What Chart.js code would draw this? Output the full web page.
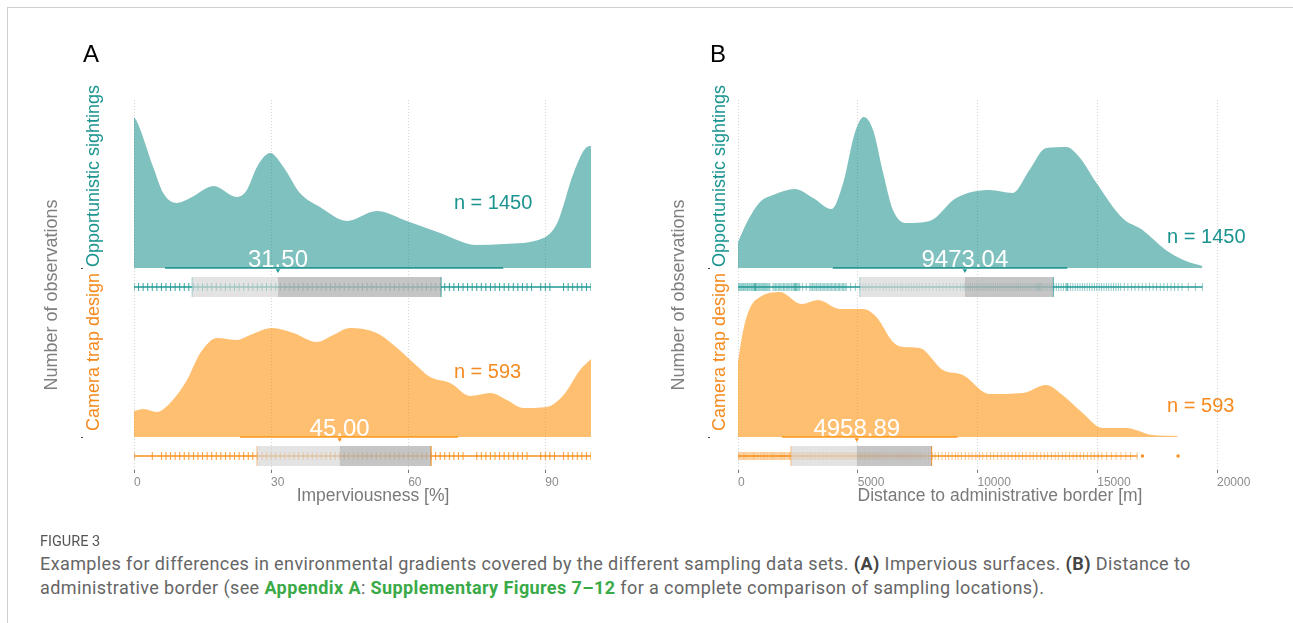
<!DOCTYPE html>
<html>
<head>
<meta charset="utf-8">
<script src="https://cdn.jsdelivr.net/npm/chart.js@4.4.0/dist/chart.umd.min.js"></script>
<style>
  body { margin: 0; background: #fff; width: 1293px; height: 623px; overflow: hidden; position: relative;
         font-family: 'Liberation Sans', Arial, sans-serif; }
  #frame { position: absolute; left: 7px; top: 7px; width: 1300px; height: 700px;
           border-top: 1px solid #cfcfcf; border-left: 1px solid #cfcfcf; }
  canvas { position: absolute; left: 0; top: 0; }
  .t { position: absolute; white-space: nowrap; line-height: 1; }
  .rot { transform: translate(-50%, -50%) rotate(-90deg); }
  .mid { transform: translate(-50%, -50%); }
  .tick { position: absolute; width: 2px; height: 1px; background: #444; }
  .cap { position: absolute; left: 40px; white-space: nowrap; font-family: Roboto, 'Liberation Sans', sans-serif; color: #666; }
  .cap b { color: #444; }
  .cap b.g { color: #3aaa48; }
</style>
</head>
<body>
<div id="frame"></div>
<canvas id="chartA" width="1293" height="520"></canvas>
<canvas id="chartB" width="1293" height="520"></canvas>

<div class="t" style="left:83px;top:42px;font-size:24px;color:#000">A</div>
<div class="t" style="left:710px;top:42px;font-size:24px;color:#000">B</div>

<div class="t rot" style="left:51px;top:295px;font-size:18px;color:#7f7f7f">Number of observations</div>
<div class="t rot" style="left:93px;top:176px;font-size:18px;color:#1b9490">Opportunistic sightings</div>
<div class="t rot" style="left:93px;top:352px;font-size:18px;color:#f58a1f">Camera trap design</div>
<div class="t rot" style="left:678px;top:295px;font-size:18px;color:#7f7f7f">Number of observations</div>
<div class="t rot" style="left:719px;top:176px;font-size:18px;color:#1b9490">Opportunistic sightings</div>
<div class="t rot" style="left:719px;top:352px;font-size:18px;color:#f58a1f">Camera trap design</div>
<div class="tick" style="left:81px;top:268px"></div>
<div class="tick" style="left:81px;top:437px"></div>
<div class="tick" style="left:708px;top:268px"></div>
<div class="tick" style="left:708px;top:437px"></div>

<div class="t mid" style="left:373px;top:496px;font-size:17.5px;color:#7a7a7a">Imperviousness [%]</div>
<div class="t mid" style="left:1000px;top:496px;font-size:17.5px;color:#7a7a7a">Distance to administrative border [m]</div>

<div class="cap" style="top:534px;font-size:14.5px;line-height:16px;color:#555">FIGURE 3</div>
<div class="cap" style="top:552px;font-size:18px;line-height:24px;letter-spacing:0.4px">Examples for differences in environmental gradients covered by the different sampling data sets. <b>(A)</b> Impervious surfaces. <b>(B)</b> Distance to<br>administrative border (see <b class="g">Appendix A</b>: <b class="g">Supplementary Figures 7–12</b> for a complete comparison of sampling locations).</div>

<script>
// groups (top ridge first)
const groups = ['Opportunistic sightings', 'Camera trap design'];
const groupN = [1450, 593];

// ---------- panel A : imperviousness [%] ----------
const impTicks = [0, 30, 60, 90];
const impOppX = [0, 0.7, 4.2, 6.4, 9.3, 12.3, 17.4, 22.5, 24.7, 26.9, 29.8, 32.7, 36.3, 40.7, 46.6, 53.1, 59.7, 67, 75, 80.9, 89.6, 92.6, 96.2, 99.1, 100];
const impOppDens = [1.51, 1.46, 1.01, 0.75, 0.65, 0.70, 0.82, 0.71, 0.78, 1.01, 1.15, 1.01, 0.75, 0.61, 0.47, 0.57, 0.47, 0.35, 0.23, 0.24, 0.30, 0.45, 0.95, 1.21, 1.22];
const impCamX = [0, 2.1, 5, 7.9, 11.6, 14.5, 18.2, 22.5, 25.4, 30.2, 34.9, 40, 43.6, 47.3, 53.1, 56.8, 61.2, 64.8, 69.2, 73.6, 78, 81.6, 85.2, 90.3, 94, 97.6, 100];
const impCamDens = [0.26, 0.28, 0.25, 0.34, 0.57, 0.84, 0.99, 0.97, 1.02, 1.09, 1.04, 0.95, 1.02, 1.09, 1.04, 0.92, 0.74, 0.60, 0.54, 0.41, 0.44, 0.37, 0.29, 0.30, 0.42, 0.67, 0.78];
const impMedian = [31.50, 45.00];
const impQ1 = [12.7, 26.9];
const impQ3 = [67.2, 65.0];
const impIntLo = [6.8, 23.2];
const impIntHi = [80.8, 70.9];
const impMin = [0, 0];
const impMax = [100, 100];
const impOppRug = [0,1,2,3,4,5,6,7,8,9,10,11,12,13,14,15,16,17,18,19,20,21,22,23,24,25,26,27,28,29,30,31,32,33,34,35,36,37,38,39,40,41,42,43,44,45,46,47,48,49,50,51,52,53,54,55,56,57,58,59,60,61,62,63,64,65,66,67,68,69,70,71,72,73,74,75,76,77,78,79,80,81,82,83,84,85,86,87,89,90,91,94,95,96,97,98,99,100];
const impCamRug = [0,4,6,7,8,9,10,11,12,13,14,15,16,17,18,19,20,21,22,23,24,25,26,27,28,29,30,31,32,33,34,35,36,37,38,39,40,41,42,43,44,45,46,47,48,49,50,51,52,53,54,55,56,57,58,59,60,61,62,63,64,65,66,67,68,69,70,71,72,75,76,77,78,79,80,81,82,83,84,85,86,89,90,91,92,94,95,96,97,98,99,100];
const impCamOutliers = [];

// ---------- panel B : distance to administrative border [m] ----------
const distTicks = [0, 5000, 10000, 15000, 20000];
const distOppX = [0, 360, 920, 1470, 2375, 3140, 3900, 4390, 4875, 5250, 5640, 6060, 6470, 7030, 8000, 9110, 10500, 11470, 12170, 12860, 13700, 14250, 14940, 16050, 16890, 17860, 18700, 19390];
const distOppDens = [0.26, 0.45, 0.66, 0.73, 0.79, 0.70, 0.59, 0.85, 1.35, 1.51, 1.38, 0.95, 0.58, 0.45, 0.47, 0.70, 0.78, 0.75, 0.98, 1.20, 1.21, 1.11, 0.86, 0.50, 0.38, 0.18, 0.07, 0.02];
const distCamX = [0, 220, 500, 920, 1750, 2650, 3350, 4250, 5220, 5780, 6470, 6890, 7580, 8560, 9390, 10500, 11890, 12860, 13550, 14390, 15220, 16200, 17300, 18350];
const distCamDens = [0.75, 1.07, 1.29, 1.40, 1.45, 1.33, 1.37, 1.28, 1.28, 1.20, 0.95, 0.90, 0.89, 0.67, 0.62, 0.43, 0.44, 0.52, 0.42, 0.24, 0.09, 0.09, 0.02, 0.01];
const distMedian = [9473.04, 4958.89];
const distQ1 = [5083, 2208];
const distQ3 = [13167, 8083];
const distIntLo = [3958, 1833];
const distIntHi = [13750, 9167];
const distMin = [0, 0];
const distMax = [19390, 16670];
const distOppRug = [15,55,95,140,180,225,260,300,345,390,420,470,510,560,600,650,690,705,720,740,760,800,845,890,930,975,1020,1065,1110,1150,1200,1240,1290,1330,
  1460,1510,1570,1620,1680,1730,1790,1840,1900,1950,2010,2060,2120,2170,2230,2290,2340,2370,2390,2410,2440,2490,2540,2580,2700,2850,
  3000,3050,3110,3170,3220,3280,3340,3390,3450,3510,3560,3620,3680,3730,3790,3850,3900,3960,4020,4070,4130,4190,4240,4300,4360,4410,4470,4520,4700,4900,
  5100,5220,5330,5460,5590,5760,5930,6080,6190,6310,6420,6540,6660,6790,6880,7010,7120,7230,7340,7460,7570,7690,7840,7990,8140,8280,8410,8560,8690,8830,8990,9140,9290,
  9400,9470,9550,9630,9710,9790,9870,9950,10030,10110,10190,10270,10350,10430,10510,10590,10670,10750,10830,10910,10990,11070,11150,11230,11310,11390,11470,11550,11630,11710,
  11790,11870,11950,12030,12110,12190,12270,12350,12430,12470,12510,12550,12590,12630,12690,12770,12850,12930,13010,13090,
  13190,13290,13390,13490,13590,13690,13730,13750,13780,13880,13980,14080,14180,14280,14380,14480,14580,14680,14780,14880,14980,15080,15180,15280,15380,15480,15580,15680,
  15780,15880,15980,16130,16280,16430,16580,16730,16880,17030,17180,17330,17480,17630,17780,17930,18080,18230,18380,18540,18800,19100,19390];
const distCamRug = [0,40,90,130,180,230,270,320,370,410,460,510,550,600,650,690,740,790,830,880,930,970,1020,1070,1110,1160,1210,1250,1300,1350,1390,1440,1490,1530,1580,
  1630,1670,1720,1770,1810,1860,1910,1950,2000,2050,2100,2150,2200,2250,2310,2360,2420,2470,2530,2580,2640,2690,2750,2800,2860,2910,2970,3020,3080,3130,3190,3240,3300,
  3350,3410,3460,3520,3570,3630,3680,3740,3790,3850,3900,3960,4010,4070,4120,4180,4230,4290,4340,4400,4450,4510,4560,4620,4670,4730,4780,4840,4890,4950,5000,5060,5110,
  5170,5220,5280,5330,5390,5440,5500,5550,5610,5660,5720,5780,5850,5920,5990,6060,6130,6200,6270,6340,6410,6480,6550,6620,6690,6760,6830,6900,6970,7040,7110,7180,7250,
  7320,7390,7460,7530,7600,7680,7820,7960,8110,8230,8370,8520,8660,8790,8940,9080,9190,9330,9490,9640,9770,9930,10080,10220,10390,10540,10680,10830,10990,11140,11280,
  11440,11590,11730,11880,12030,12190,12330,12480,12640,12790,12930,13090,13240,13380,13540,13690,13840,13990,14140,14290,14430,14590,14740,14880,15040,15190,15390,
  15590,15790,15990,16190,16390,16670];
const distCamOutliers = [16890, 18375];

// ---------- layout (y units = px inside the chart area) ----------
const Y_MAX = 370;
const BASE = [202, 33];     // ridge baselines
const STRIP = [183, 14];    // rug / box strips
const DENS_H = 100;         // px per density unit
const BOX_H = 10;
const FILL = ['rgba(0,131,126,0.5)', 'rgba(255,140,0,0.56)'];
const LINE = ['rgba(0,131,126,0.65)', 'rgba(255,140,0,0.65)'];
const SOLID = ['#1f9995', '#f7901c'];
const TEXT = ['#1b9490', '#f58a1f'];

Chart.defaults.font.family = "'Liberation Sans', Arial, sans-serif";

const ridgeLabels = {
  id: 'ridgeLabels',
  afterDatasetsDraw(chart, args, opts) {
    const { ctx, scales: { x, y } } = chart;
    ctx.save();
    opts.items.forEach(it => {
      ctx.font = it.font;
      ctx.fillStyle = it.color;
      ctx.textAlign = it.align;
      ctx.textBaseline = 'alphabetic';
      ctx.fillText(it.text, x.getPixelForValue(it.x), y.getPixelForValue(it.y));
    });
    ctx.restore();
  }
};

function pts(xs, ys) { return xs.map((v, i) => ({ x: v, y: ys[i] })); }

function buildPanel(id, p) {
  const datasets = [];
  const labels = [];
  for (let g = 0; g < 2; g++) {
    const base = BASE[g], strip = STRIP[g];
    datasets.push({
      data: p.densX[g].map((v, i) => ({ x: v, y: base + p.dens[g][i] * DENS_H })),
      fill: { value: base }, backgroundColor: FILL[g], borderWidth: 0,
      cubicInterpolationMode: 'monotone', pointRadius: 0, order: 20
    });
    datasets.push({
      data: pts([p.lo[g], p.hi[g]], [base, base]),
      borderColor: LINE[g], borderWidth: 2, pointRadius: 0, fill: false, order: 18
    });
    datasets.push({
      data: pts([p.min[g], p.max[g]], [strip, strip]),
      borderColor: SOLID[g], borderWidth: 1.3, pointRadius: 0, fill: false, order: 16
    });
    datasets.push({
      data: p.rug[g].map(v => ({ x: v, y: strip })),
      showLine: false, pointStyle: 'line', pointRotation: 90, pointRadius: 4,
      pointBorderWidth: 1, pointBorderColor: p.rugColor[g], order: 14
    });
    const edge = p.edge[g];
    datasets.push({
      data: pts([p.q1[g], p.q1[g], p.q3[g], p.q3[g]], [strip - BOX_H, strip + BOX_H, strip + BOX_H, strip - BOX_H]),
      fill: { value: strip - BOX_H }, backgroundColor: 'rgba(215,215,215,0.7)',
      borderColor: edge, borderWidth: 1, pointRadius: 0,
      segment: { borderColor: c => c.p0DataIndex === 1 ? 'rgba(0,0,0,0)' : edge }, order: 12
    });
    datasets.push({
      data: pts([p.median[g], p.q3[g]], [strip + BOX_H, strip + BOX_H]),
      fill: { value: strip - BOX_H }, backgroundColor: 'rgba(120,120,120,0.28)',
      borderWidth: 0, pointRadius: 0, order: 11
    });
    datasets.push({
      data: [{ x: p.median[g], y: base - 2.5 }],
      showLine: false, pointStyle: 'triangle', pointRotation: 180, pointRadius: 2.5,
      pointBackgroundColor: SOLID[g], pointBorderWidth: 0, order: 10
    });
    if (p.outliers[g].length) {
      datasets.push({
        data: p.outliers[g].map(v => ({ x: v, y: strip })),
        showLine: false, pointStyle: 'circle', pointRadius: 1.7,
        pointBackgroundColor: SOLID[g], pointBorderWidth: 0, order: 10
      });
    }
    labels.push({ text: p.median[g].toFixed(2), x: p.median[g], y: base + 1.5,
                  font: '24px "Liberation Sans", Arial, sans-serif', color: '#ffffff', align: 'center' });
    labels.push({ text: 'n = ' + groupN[g], x: p.nPos[g][0], y: p.nPos[g][1],
                  font: '20px "Liberation Sans", Arial, sans-serif', color: TEXT[g], align: 'left' });
  }

  return new Chart(document.getElementById(id), {
    type: 'line',
    data: { datasets },
    plugins: [ridgeLabels],
    options: {
      responsive: false, animation: false, events: [],
      layout: { padding: p.padding },
      plugins: { legend: { display: false }, tooltip: { enabled: false }, ridgeLabels: { items: labels } },
      scales: {
        x: {
          type: 'linear', min: p.xMin, max: p.xMax,
          afterBuildTicks: s => { s.ticks = p.ticks.map(v => ({ value: v })); },
          afterFit: s => { s.height = 30; },
          ticks: { align: 'start', color: '#8c8c8c', font: { size: 12 }, padding: 2, autoSkip: false, maxRotation: 0,
                   callback: v => String(v) },
          grid: { color: '#d4d4d4', lineWidth: 1, tickLength: 3, tickColor: '#777' },
          border: { display: false, dash: [1, 2] }
        },
        y: { type: 'linear', min: 0, max: Y_MAX, display: false }
      }
    }
  });
}

buildPanel('chartA', {
  xMin: 0, xMax: 100, ticks: impTicks,
  padding: { left: 134, right: 702, top: 100, bottom: 20 },
  densX: [impOppX, impCamX], dens: [impOppDens, impCamDens],
  median: impMedian, q1: impQ1, q3: impQ3, lo: impIntLo, hi: impIntHi,
  min: impMin, max: impMax, rug: [impOppRug, impCamRug], outliers: [[], impCamOutliers],
  rugColor: ['rgba(31,153,149,0.9)', 'rgba(247,144,28,0.9)'],
  edge: ['rgba(31,153,149,0.35)', 'rgba(247,144,28,0.5)'],
  nPos: [[70, 261], [70, 92]]
});

buildPanel('chartB', {
  xMin: 0, xMax: 20000, ticks: distTicks,
  padding: { left: 738, right: 76, top: 100, bottom: 20 },
  densX: [distOppX, distCamX], dens: [distOppDens, distCamDens],
  median: distMedian, q1: distQ1, q3: distQ3, lo: distIntLo, hi: distIntHi,
  min: distMin, max: distMax, rug: [distOppRug, distCamRug], outliers: [[], distCamOutliers],
  rugColor: ['rgba(31,153,149,0.5)', 'rgba(247,144,28,0.5)'],
  edge: ['rgba(31,153,149,0.35)', 'rgba(247,144,28,0.5)'],
  nPos: [[17917, 227], [17917, 58]]
});
</script>
</body>
</html>
